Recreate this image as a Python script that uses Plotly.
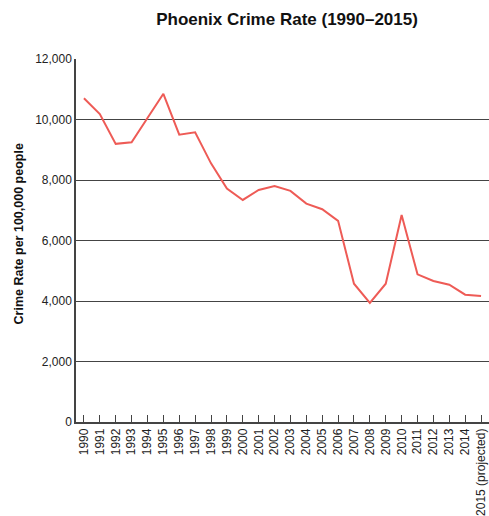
import plotly.graph_objects as go

# Phoenix crime rate per 100,000 people, 1990–2015
years = [str(y) for y in range(1990, 2015)] + ["2015 (projected)"]
crime_rate = [10700, 10180, 9195, 9250, 10050, 10850, 9500, 9575, 8550, 7715,
              7340, 7670, 7800, 7640, 7220, 7035, 6650, 4570, 3935, 4570,
              6840, 4880, 4660, 4540, 4210, 4165]
y_ticks = [0, 2000, 4000, 6000, 8000, 10000, 12000]
y_tick_text = ["0", "2,000", "4,000", "6,000", "8,000", "10,000", "12,000"]

fig = go.Figure(go.Scatter(
    x=years, y=crime_rate, mode="lines",
    line=dict(color="#EE5B56", width=2),
    hoverinfo="x+y",
))

fig.update_layout(
    width=489, height=516,
    paper_bgcolor="white", plot_bgcolor="white",
    margin=dict(l=76, r=0, t=59, b=92),
    showlegend=False,
    title=dict(text="<b>Phoenix Crime Rate (1990–2015)</b>",
               x=0.587, xanchor="center", y=0.963, yanchor="middle",
               font=dict(family="Liberation Sans, Arial, sans-serif",
                         size=17, color="#111")),
    font=dict(family="Liberation Sans, Arial, sans-serif", size=12, color="#222"),
)

# vertical axis title placed as a rotated annotation
fig.add_annotation(
    text="<b>Crime Rate per 100,000 people</b>",
    xref="paper", yref="paper", x=-0.137, y=(424 - 235) / 365,
    xanchor="center", yanchor="middle", textangle=-90, showarrow=False,
    font=dict(size=12.5, color="#111"),
)

fig.update_xaxes(
    type="category", range=[-0.5, 25.5],
    showgrid=False, showline=True, linecolor="#444", linewidth=1.5,
    ticks="inside", ticklen=7, tickcolor="#444", tickwidth=1,
    tickangle=-90, tickfont=dict(size=12, color="#222"),
)

fig.update_yaxes(
    range=[0, 12000], tickvals=y_ticks, ticktext=y_tick_text,
    showgrid=True, gridcolor="#444", gridwidth=1.2,
    showline=True, linecolor="#444", linewidth=1.5,
    ticks="", zeroline=False,
    tickfont=dict(size=12, color="#222"),
)

fig.write_html("out.html")
